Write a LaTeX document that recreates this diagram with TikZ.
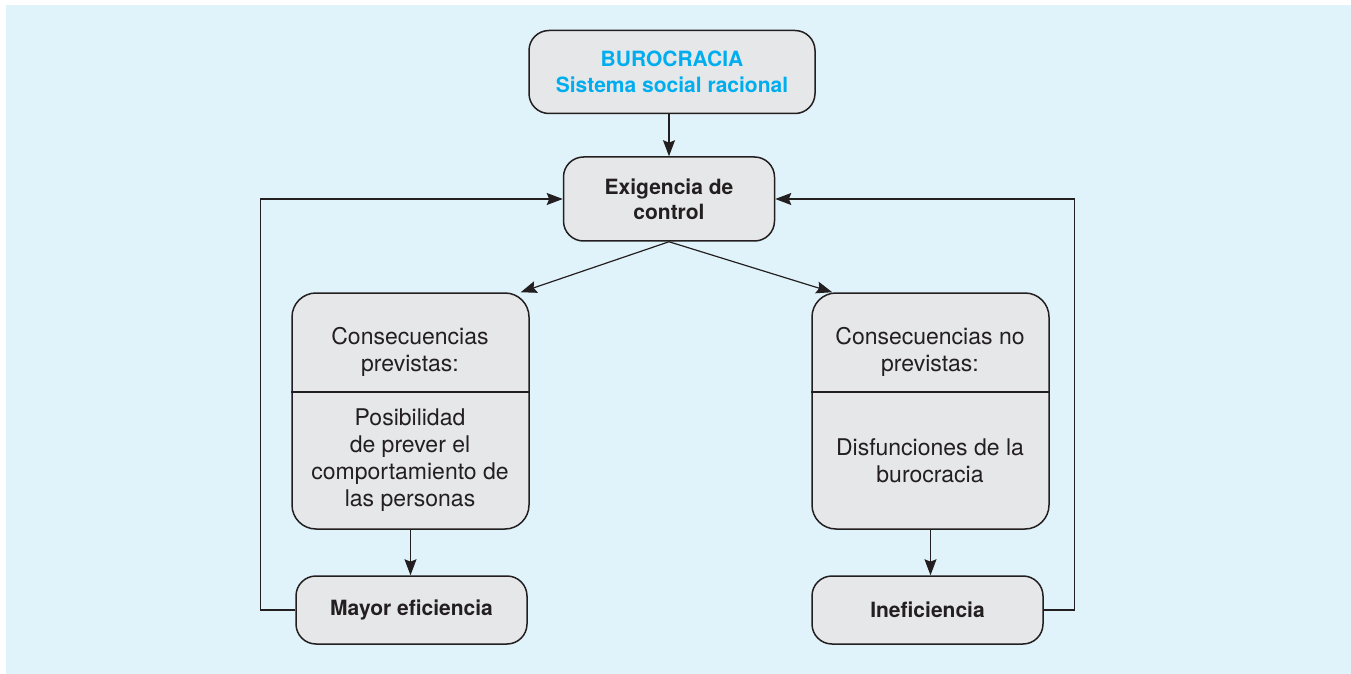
\documentclass[tikz,border=0pt]{standalone}
\usepackage{xcolor}
\usepackage{fontspec}
\setmainfont{TeX Gyre Heros}
\usetikzlibrary{arrows.meta}
\definecolor{bgblue}{RGB}{224,243,251}
\definecolor{boxgray}{RGB}{230,231,232}
\definecolor{titleblue}{RGB}{0,174,239}
\definecolor{ink}{RGB}{35,31,32}

\begin{document}
\begin{tikzpicture}[x=0.5pt,y=-0.5pt,
  box/.style={rectangle,rounded corners=10pt,draw=ink,line width=0.75pt,fill=boxgray,align=center,text=ink,inner sep=0pt},
  bigbox/.style={box,rounded corners=12pt,minimum width=118.5pt,minimum height=118pt},
  endbox/.style={box,minimum width=115.5pt,minimum height=34pt,font=\fontsize{10.5}{13}\selectfont\bfseries},
  txt/.style={align=center,text=ink,inner sep=0pt,font=\fontsize{11.5}{13.5}\selectfont},
  conn/.style={draw=ink,line width=0.6pt,-{Stealth[length=8pt,width=6pt,inset=1.2pt]}}]
\useasboundingbox (0,0) rectangle (1351,674);
\fill[bgblue] (6,5) rectangle (1351,674);
\node at (672,72) [box,minimum width=143pt,minimum height=41.5pt,text=titleblue,font=\fontsize{10.5}{13}\selectfont\bfseries] (buro) {BUROCRACIA\\Sistema social racional};
\node at (669,199) [box,minimum width=105.5pt,minimum height=42pt,font=\fontsize{10.5}{12.5}\selectfont\bfseries] (exig) {Exigencia de\\control};
\node at (410.5,411) [bigbox] (lbox) {};
\node at (930.5,411) [bigbox] (rbox) {};
\node at (410,352) [txt] (ltop) {Consecuencias\\previstas:};
\node at (410,460) [txt] (lbot) {Posibilidad\\de prever el\\comportamiento de\\las personas};
\node at (930,352) [txt] (rtop) {Consecuencias no\\previstas:};
\node at (930,461) [txt] (rbot) {Disfunciones de la\\burocracia};
\draw[draw=ink,line width=0.75pt] (lbox.west |- 0,392) -- (lbox.east |- 0,392);
\draw[draw=ink,line width=0.75pt] (rbox.west |- 0,392) -- (rbox.east |- 0,392);
\node at (411.5,610) [endbox] (mayor) {Mayor eficiencia};
\node at (927.5,610) [endbox] (inef) {Ineficiencia};
\draw[conn] (exig.north |- buro.south) -- (exig.north);
\draw[conn] (exig.south) -- ([xshift=-4.5pt]lbox.north east);
\draw[conn] (exig.south) -- ([xshift=10.5pt]rbox.north west);
\draw[conn] (lbox.south) -- (lbox.south |- mayor.north);
\draw[conn] (rbox.south) -- (rbox.south |- inef.north);
\draw[conn] (mayor.west) -- ++(-35,0) |- (exig.west);
\draw[conn] (inef.east) -- ++(31,0) |- (exig.east);
\end{tikzpicture}
\end{document}
